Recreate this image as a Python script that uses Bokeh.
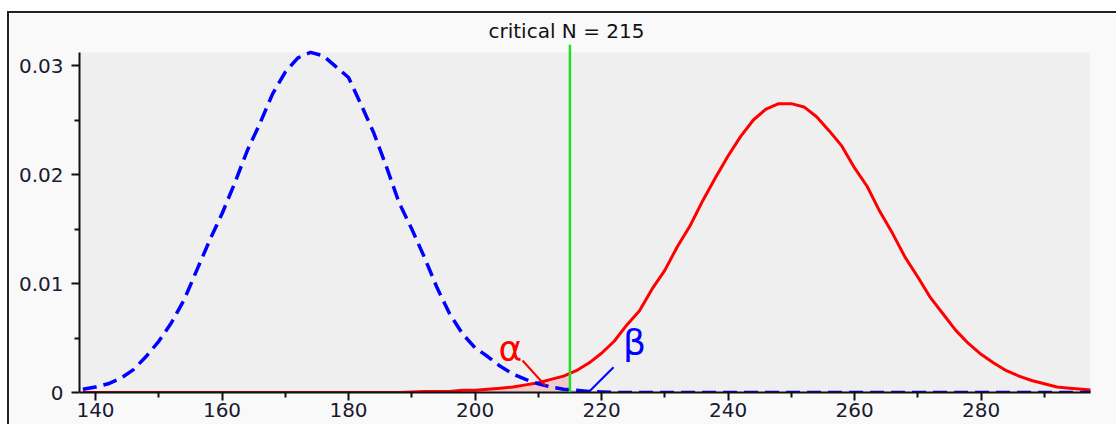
import numpy as np
from bokeh.plotting import figure
from bokeh.models import (FixedTicker, CustomJSTickFormatter, BoxAnnotation, Span, Label, Range1d)
from bokeh.embed import file_html
from bokeh.resources import INLINE

# ---- data ----
n_values = list(range(138, 300, 2))
null_density = [0.0003, 0.0005, 0.0008, 0.0013, 0.0021, 0.0033, 0.0047, 0.0064, 0.0085, 0.0112,
                0.0139, 0.0164, 0.0192, 0.0222, 0.0247, 0.0274, 0.0294, 0.0307, 0.0312, 0.0309,
                0.0299, 0.0289, 0.0264, 0.0238, 0.0207, 0.0174, 0.0150, 0.0124, 0.0096, 0.0072,
                0.0054, 0.0041, 0.0033, 0.0024, 0.0017, 0.0012, 0.0008, 0.0005, 0.0003, 0.0002,
                0.0001, 0.00005] + [0.0] * 39
alt_density = [0.0] * 26 + [0.00005, 0.0001, 0.0001, 0.0001, 0.0002, 0.0002, 0.0003, 0.0004, 0.0005,
                            0.0007, 0.0009, 0.0012, 0.0015, 0.0020, 0.0027, 0.0036, 0.0047, 0.0062,
                            0.0075, 0.0095, 0.0112, 0.0134, 0.0153, 0.0176, 0.0197, 0.0217, 0.0235,
                            0.0250, 0.0260, 0.0265, 0.0265, 0.0262, 0.0253, 0.0240, 0.0226, 0.0206,
                            0.0189, 0.0166, 0.0146, 0.0124, 0.0106, 0.0087, 0.0072, 0.0057, 0.0045,
                            0.0035, 0.0027, 0.0020, 0.0015, 0.0011, 0.0008, 0.0005, 0.0004, 0.0003,
                            0.0002]
critical_n = 215
x_ticks = [140, 160, 180, 200, 220, 240, 260, 280]
x_minor = [150, 170, 190, 210, 230, 250, 270, 290]
y_ticks = [0, 0.01, 0.02, 0.03]
y_minor = [0.005, 0.015, 0.025]
title_text = "critical N = %d" % critical_n

FONT = "DejaVu Sans"
x = np.array(n_values, dtype=float)
b = np.array(null_density)
r = np.array(alt_density)

Y_TOP = 0.031193
p = figure(width=1109, height=413, output_backend="svg", toolbar_location=None,
           x_range=Range1d(137.47, 297.3), y_range=Range1d(0, 0.031927),
           min_border_left=70, min_border_right=28, min_border_top=31, min_border_bottom=34,
           background_fill_color="#f9f9f9", border_fill_color="#f9f9f9",
           margin=(11, 0, 0, 7),
           styles={"border-top": "2px solid #222", "border-left": "2px solid #222"})
p.outline_line_color = None
p.xgrid.visible = False
p.ygrid.visible = False

p.title.text = title_text
p.title.align = "left"
p.title.offset = 409
p.title.standoff = 0
p.title.vertical_align = "top"
p.title.text_font = FONT
p.title.text_font_size = "20px"
p.title.text_font_style = "normal"
p.title.text_color = "#111111"

p.add_layout(BoxAnnotation(bottom=0, top=Y_TOP, fill_color="#efefef", fill_alpha=1.0,
                           line_color=None, level="underlay"))

# shaded alpha / beta regions
r_c = float(np.interp(critical_n, x, r))
b_c = float(np.interp(critical_n, x, b))
ma = x < critical_n
p.varea(x=list(x[ma]) + [critical_n], y1=0, y2=list(r[ma]) + [r_c], fill_color="red", fill_alpha=0.15)
mb = x > critical_n
p.varea(x=[critical_n] + list(x[mb]), y1=0, y2=[b_c] + list(b[mb]), fill_color="blue", fill_alpha=0.15)

p.line(x, r, line_color="#ff0000", line_width=3)
p.line(x, b, line_color="#0000ff", line_width=3.5, line_dash="14 7")

p.add_layout(Span(location=critical_n, dimension="height", line_color="#22dd22", line_width=2.5))

# annotations
p.segment(x0=[207.5], y0=[0.00294], x1=[211.1], y1=[0.00064], line_color="#ff0000", line_width=2)
p.segment(x0=[221.9], y0=[0.00232], x1=[217.9], y1=[0.0], line_color="#0000ff", line_width=2)
p.add_layout(Label(x=205.6, y=0.00404, text="α", text_color="#ff0000", text_font=FONT,
                   text_font_size="36px", text_align="center", text_baseline="middle"))
p.add_layout(Label(x=225.2, y=0.0046, text="β", text_color="#0000ff", text_font=FONT,
                   text_font_size="36px", text_align="center", text_baseline="middle"))

for ax in (p.xaxis[0], p.yaxis[0]):
    ax.axis_line_color = "#111111"
    ax.axis_line_width = 2
    ax.major_tick_line_color = "#111111"
    ax.minor_tick_line_color = "#111111"
    ax.major_tick_line_width = 2
    ax.minor_tick_line_width = 2
    ax.major_tick_in = 0
    ax.major_tick_out = 8
    ax.minor_tick_in = 0
    ax.minor_tick_out = 5
    ax.major_label_text_font = FONT
    ax.major_label_text_font_size = "20px"
    ax.major_label_text_color = "#1a1a30"

p.xaxis[0].ticker = FixedTicker(ticks=x_ticks, minor_ticks=x_minor)
p.yaxis[0].ticker = FixedTicker(ticks=y_ticks, minor_ticks=y_minor)
p.yaxis[0].bounds = (0, Y_TOP)
p.xaxis[0].major_label_standoff = 2
p.yaxis[0].major_label_standoff = 8
p.yaxis[0].formatter = CustomJSTickFormatter(code="return tick == 0 ? '0' : tick.toFixed(2);")

open("out.html", "w").write(file_html(p, INLINE))
